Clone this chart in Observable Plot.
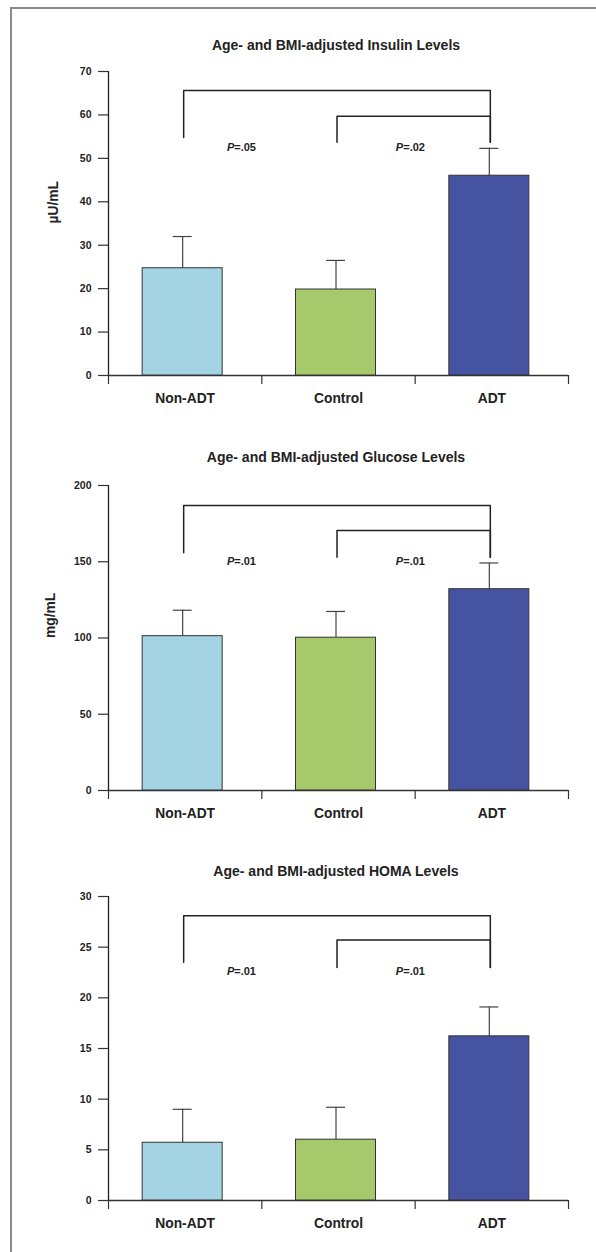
<!DOCTYPE html>
<html><head><meta charset="utf-8">
<script src="https://cdn.jsdelivr.net/npm/d3@7"></script>
<script src="https://cdn.jsdelivr.net/npm/@observablehq/plot@0.6"></script>
<style>
body{margin:0;background:#fff;font-family:"Liberation Sans",Arial,sans-serif;}
#page{position:relative;width:596px;height:1252px;overflow:hidden;background:#fff;}
#frame{position:absolute;left:10px;top:7px;width:700px;height:1400px;border-left:2px solid #8a8a8a;border-top:2px solid #8a8a8a;pointer-events:none;}
.title{position:absolute;transform:translateX(-50%);white-space:nowrap;font-weight:bold;font-size:14px;color:#222;line-height:16px;}
.panel{position:absolute;left:0;}
.panel svg text{font-weight:bold;}
</style></head><body><div id="page"></div>
<script>
const categories = ["Non-ADT", "Control", "ADT"];
const barColors = ["#a4d3e3", "#a5c96b", "#4553a0"];

const insulinMean = [24.7, 19.8, 46.0];
const insulinSE = [7.3, 6.7, 6.3];
const insulinTicks = [0, 10, 20, 30, 40, 50, 60, 70];

const glucoseMean = [101.2, 100.2, 132.0];
const glucoseSE = [17.0, 17.2, 17.2];
const glucoseTicks = [0, 50, 100, 150, 200];

const homaMean = [5.7, 6.0, 16.2];
const homaSE = [3.3, 3.2, 2.9];
const homaTicks = [0, 5, 10, 15, 20, 25, 30];

// significance brackets: Non-ADT vs ADT, Control vs ADT
const bracketPairs = [[0, 2], [1, 2]];
const insulinBracketTop = [65.6, 59.7];
const insulinBracketLeftEnd = [54.8, 53.7];
const insulinBracketRightEnd = [53.7, 53.7];
const insulinP = ["=.05", "=.02"];
const insulinPY = 52.5;

const glucoseBracketTop = [186.9, 170.5];
const glucoseBracketLeftEnd = [155.9, 153.0];
const glucoseBracketRightEnd = [153.0, 153.0];
const glucoseP = ["=.01", "=.01"];
const glucosePY = 150.3;

const homaBracketTop = [28.1, 25.7];
const homaBracketLeftEnd = [23.5, 23.0];
const homaBracketRightEnd = [23.0, 23.0];
const homaP = ["=.01", "=.01"];
const homaPY = 22.6;

const pLabelX = [0.82, 1.922];

const panels = [
  {title: "Age- and BMI-adjusted Insulin Levels", titleTop: 37, top: 55, marginTop: 16, plotH: 304,
   means: insulinMean, ses: insulinSE, ticks: insulinTicks, yLabel: "µU/mL", yLabelDx: -55,
   bTop: insulinBracketTop, bLeft: insulinBracketLeftEnd, bRight: insulinBracketRightEnd, p: insulinP, pY: insulinPY},
  {title: "Age- and BMI-adjusted Glucose Levels", titleTop: 449, top: 467, marginTop: 18, plotH: 305,
   means: glucoseMean, ses: glucoseSE, ticks: glucoseTicks, yLabel: "mg/mL", yLabelDx: -58,
   bTop: glucoseBracketTop, bLeft: glucoseBracketLeftEnd, bRight: glucoseBracketRightEnd, p: glucoseP, pY: glucosePY},
  {title: "Age- and BMI-adjusted HOMA Levels", titleTop: 863, top: 880, marginTop: 16, plotH: 304,
   means: homaMean, ses: homaSE, ticks: homaTicks, yLabel: null, yLabelDx: 0,
   bTop: homaBracketTop, bLeft: homaBracketLeftEnd, bRight: homaBracketRightEnd, p: homaP, pY: homaPY}
];

const page = document.getElementById("page");

for (const cfg of panels) {
  const yMax = cfg.ticks[cfg.ticks.length - 1];
  const rows = categories.map((c, i) => ({cat: c, x: i + 0.5, mean: cfg.means[i], upper: cfg.means[i] + cfg.ses[i]}));
  const brackets = bracketPairs.flatMap(([a, b], k) => [
    {k, x: a + 0.5, y: cfg.bLeft[k]},
    {k, x: a + 0.5, y: cfg.bTop[k]},
    {k, x: b + 0.5, y: cfg.bTop[k]},
    {k, x: b + 0.5, y: cfg.bRight[k]}
  ]);
  const pRows = cfg.p.map((t, k) => ({x: pLabelX[k], y: cfg.pY, t}));
  const marginBottom = 40;
  const height = cfg.marginTop + cfg.plotH + marginBottom;

  const marks = [
    Plot.ruleX([0], {y1: 0, y2: yMax, stroke: "#222", strokeWidth: 1.3}),
    Plot.axisY({ticks: cfg.ticks, tickSize: 10, tickPadding: 7, fontSize: 10.5, fontWeight: "bold", label: null, stroke: "#333", strokeWidth: 1.2}),
    Plot.axisX({ticks: [0, 1, 2, 3], tickSize: 9, tickFormat: () => "", label: null, stroke: "#333", strokeWidth: 1.2}),
    Plot.axisX({ticks: [0.5, 1.5, 2.5], tickSize: 0, tickPadding: 18, tickFormat: d => categories[Math.floor(d)], fontSize: 13.8, fontWeight: "bold", label: null}),
    Plot.ruleY([0], {x1: 0, x2: 3, stroke: "#333", strokeWidth: 1.3}),
    Plot.ruleX(rows, {x: "x", y1: "mean", y2: "upper", dx: -2.5, stroke: "#444", strokeWidth: 1.2}),
    Plot.ruleY(rows, {y: "upper", x1: "x", x2: "x", dx: -2.5, insetLeft: -9.5, insetRight: -9.5, stroke: "#444", strokeWidth: 1.2}),
    Plot.rectY(rows, {x1: "x", x2: "x", y1: 0, y2: "mean", dx: -2.5, insetLeft: -40, insetRight: -40, fill: "cat", stroke: "#333", strokeWidth: 1}),
    Plot.line(brackets, {x: "x", y: "y", z: "k", dx: -1.5, stroke: "#222", strokeWidth: 1.5, curve: "linear"}),
    Plot.text(pRows, {x: "x", y: "y", text: () => "P", textAnchor: "end", fontStyle: "italic", fontSize: 11}),
    Plot.text(pRows, {x: "x", y: "y", text: "t", textAnchor: "start", fontSize: 11})
  ];
  if (cfg.yLabel) {
    marks.push(Plot.text([cfg.yLabel], {text: d => d, frameAnchor: "left", rotate: -90, dx: cfg.yLabelDx, fontSize: 13.8}));
  }

  const svg = Plot.plot({
    width: 596, height,
    marginLeft: 108, marginRight: 28, marginTop: cfg.marginTop, marginBottom,
    x: {domain: [0, 3]},
    y: {domain: [0, yMax]},
    color: {domain: categories, range: barColors},
    style: {fontFamily: "Liberation Sans, Arial, sans-serif", color: "#222", background: "transparent", overflow: "visible"},
    marks
  });

  const panel = document.createElement("div");
  panel.className = "panel";
  panel.style.top = cfg.top + "px";
  panel.appendChild(svg);
  page.appendChild(panel);

  const title = document.createElement("div");
  title.className = "title";
  title.style.left = "336px";
  title.style.top = cfg.titleTop + "px";
  title.textContent = cfg.title;
  page.appendChild(title);
}

const frame = document.createElement("div");
frame.id = "frame";
page.appendChild(frame);
</script>
</body></html>
